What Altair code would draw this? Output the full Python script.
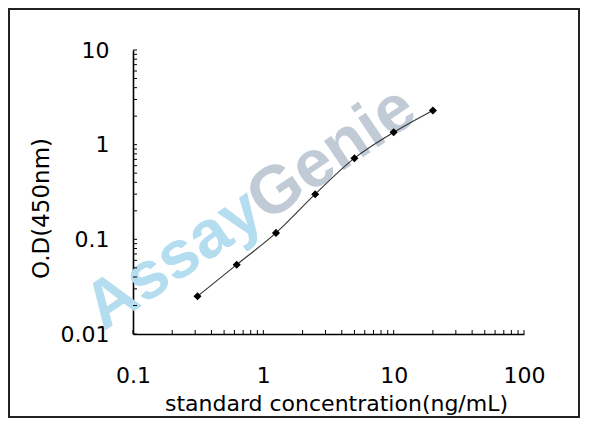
import altair as alt
import pandas as pd

# standard curve data
conc = [0.3125, 0.625, 1.25, 2.5, 5, 10, 20]
od = [0.025, 0.054, 0.117, 0.30, 0.72, 1.35, 2.3]

# axis label values
x_labels = [0.1, 1, 10, 100]
y_labels = [0.01, 0.1, 1, 10]

# tick positions (log-scale major + minor)
x_ticks = [0.1, 0.2, 0.3, 0.4, 0.5, 0.6, 0.7, 0.8, 0.9,
           1, 2, 3, 4, 5, 6, 7, 8, 9,
           10, 20, 30, 40, 50, 60, 70, 80, 90, 100]
y_ticks = [0.01, 0.02, 0.03, 0.04, 0.05, 0.06, 0.07, 0.08, 0.09,
           0.1, 0.2, 0.3, 0.4, 0.5, 0.6, 0.7, 0.8, 0.9,
           1, 2, 3, 4, 5, 6, 7, 8, 9, 10]

W, H = 391, 284
FONT = "DejaVu Sans"

df = pd.DataFrame({"conc": conc, "od": od})
xt = pd.DataFrame({"v": x_ticks})
yt = pd.DataFrame({"v": y_ticks})
one = pd.DataFrame({"k": [0]})

xscale = alt.Scale(type="log", domain=[0.1, 100], nice=False)
yscale = alt.Scale(type="log", domain=[0.01, 10], nice=False)

xaxis = alt.Axis(
    values=x_labels, format="~g", ticks=False, tickSize=0, grid=False,
    labelPadding=31, labelFlush=False, labelOverlap=False,
    title="standard concentration(ng/mL)",
    titleX=203, titleY=76, titleBaseline="alphabetic", titleAlign="center",
    titleAnchor="start",
)
yaxis = alt.Axis(
    values=y_labels, format="~g", ticks=False, tickSize=0, grid=False,
    labelPadding=24, labelFlush=False, labelOverlap=False,
    title="O.D(450nm)",
    titleX=-92, titleY=158, titleBaseline="middle", titleAlign="center",
    titleAnchor="start", titleFontSize=23,
)

border = alt.Chart(one).mark_rect(
    fill="transparent", stroke="#222222", strokeWidth=2
).encode(
    x=alt.value(-124), x2=alt.value(446), y=alt.value(-41), y2=alt.value(367)
)

wm_assay = alt.Chart(one).mark_text(
    text="Assay", angle=326, font="Liberation Sans", fontWeight="bold",
    fontSize=67, color="#b5ddf0", align="center", baseline="middle"
).encode(x=alt.value(41), y=alt.value(210))

wm_genie = alt.Chart(one).mark_text(
    text="Genie", angle=326, font="Liberation Sans", fontWeight="bold",
    fontSize=67, color="#c0cbd6", align="center", baseline="middle"
).encode(x=alt.value(199), y=alt.value(104))

line = alt.Chart(df).mark_line(
    color="#333333", strokeWidth=1.1, interpolate="monotone"
).encode(
    x=alt.X("conc:Q", scale=xscale, axis=xaxis),
    y=alt.Y("od:Q", scale=yscale, axis=yaxis),
)

pts = alt.Chart(df).mark_point(
    shape="diamond", filled=True, color="black", size=65, opacity=1
).encode(
    x=alt.X("conc:Q", scale=xscale),
    y=alt.Y("od:Q", scale=yscale),
)

xtick = alt.Chart(xt).mark_rule(color="black", strokeWidth=1).encode(
    x=alt.X("v:Q", scale=xscale), y=alt.value(H), y2=alt.value(H - 4)
)
ytick = alt.Chart(yt).mark_rule(color="black", strokeWidth=1).encode(
    y=alt.Y("v:Q", scale=yscale), x=alt.value(0), x2=alt.value(4)
)

chart = alt.layer(border, wm_assay, wm_genie, line, pts, xtick, ytick).properties(
    width=W, height=H,
    autosize=alt.AutoSizeParams(type="none"),
    padding={"left": 125, "top": 42, "right": 56, "bottom": 84},
    background="white",
).configure_view(strokeWidth=0).configure_axis(
    domainColor="black", domainWidth=1.6,
    labelFont=FONT, labelFontSize=22, labelColor="black",
    titleFont=FONT, titleFontSize=22, titleFontWeight="normal", titleColor="black",
)

chart.save("out.html", embed_options={"renderer": "svg", "actions": False})
